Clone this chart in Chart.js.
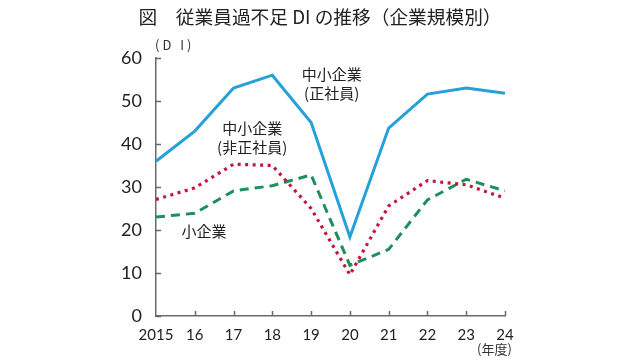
<!DOCTYPE html>
<html>
<head>
<meta charset="utf-8">
<script src="https://cdn.jsdelivr.net/npm/chart.js@4/dist/chart.umd.min.js"></script>
<style>
  html, body { margin: 0; padding: 0; background: #fff; }
  canvas { display: block; }
</style>
</head>
<body>
<canvas id="chartDI" width="627" height="361"></canvas>
<script>
// Datos
const anios = ['2015', '16', '17', '18', '19', '20', '21', '22', '23', '24'];
const seriePequenas = [36, 43, 53, 56, 45, 18.4, 43.7, 51.6, 53, 51.8];     // 中小企業（正社員）
const serieNoRegular = [27.1, 29.8, 35.3, 35, 25, 9.6, 25.6, 31.5, 30.5, 27.4]; // 中小企業（非正社員）
const serieMicro = [23, 23.9, 29.1, 30.3, 32.8, 11.8, 15.5, 27, 31.8, 29.1];   // 小企業
const ticksY = [0, 10, 20, 30, 40, 50, 60];

const titulo = '図　従業員過不足 DI の推移（企業規模別）';
// etiquetas sobre el grafico: [texto, indice x, valor y]
const etiquetas = [
  ['中小企業', 4.53, 56.1],
  ['(正社員)', 4.53, 51.9],
  ['中小企業', 2.48, 43.6],
  ['(非正社員)', 2.48, 39.2],
  ['小企業', 1.24, 19.7]
];

const fuenteNum = 'Lato, "Open Sans", sans-serif';
const fuenteJp = '"Noto Sans CJK JP", sans-serif';
const colorEje = '#6a6a6a';

/**
 * Plugin: titulo, marcas hacia dentro y textos
 */
const pluginDecor = {
  id: 'decor',
  afterDraw(chart) {
    const ctx = chart.ctx;
    const x = chart.scales.x;
    const y = chart.scales.y;
    const area = chart.chartArea;

    ctx.save();
    // marcas hacia dentro
    ctx.strokeStyle = colorEje;
    ctx.lineWidth = 1.5;
    ctx.beginPath();
    ticksY.forEach(v => {
      const py = Math.round(y.getPixelForValue(v)) + 0.5;
      ctx.moveTo(area.left, py);
      ctx.lineTo(area.left + 5, py);
    });
    anios.forEach((a, i) => {
      if (i === 0) return;
      const px = Math.round(x.getPixelForValue(i)) + 0.5;
      ctx.moveTo(px, area.bottom);
      ctx.lineTo(px, area.bottom - 5);
    });
    ctx.stroke();

    // titulo
    ctx.fillStyle = '#222';
    ctx.textAlign = 'center';
    ctx.textBaseline = 'middle';
    ctx.font = '18.7px ' + fuenteJp;
    ctx.fillText(titulo, 320, 17);

    // unidades
    ctx.font = '13px ' + fuenteJp;
    ctx.fillStyle = '#333';
    ctx.textAlign = 'left';
    ctx.letterSpacing = '3px';
    ctx.fillText('(D I)', 155, 45);
    ctx.letterSpacing = '0px';
    ctx.fillText('(年度)', 477, 349);

    // etiquetas de series
    ctx.font = '15px ' + fuenteJp;
    ctx.fillStyle = '#222';
    ctx.textAlign = 'center';
    etiquetas.forEach(([txt, xi, yv]) => {
      ctx.fillText(txt, x.getPixelForValue(xi), y.getPixelForValue(yv));
    });
    ctx.restore();
  }
};

const ctx = document.getElementById('chartDI');

new Chart(ctx, {
  type: 'line',
  data: {
    labels: anios,
    datasets: [
      {
        label: '中小企業（正社員）',
        data: seriePequenas,
        borderColor: 'rgb(38, 160, 216)',
        borderWidth: 3
      },
      {
        label: '中小企業（非正社員）',
        data: serieNoRegular,
        borderColor: 'rgb(196, 22, 58)',
        borderWidth: 3.2,
        borderDash: [3, 4.5]
      },
      {
        label: '小企業',
        data: serieMicro,
        borderColor: 'rgb(30, 142, 92)',
        borderWidth: 3,
        borderDash: [9, 6]
      }
    ]
  },
  options: {
    responsive: false,
    animation: false,
    layout: {
      padding: { left: 0, right: 122, top: 58, bottom: 0 }
    },
    elements: {
      point: { radius: 0 },
      line: { tension: 0, borderCapStyle: 'butt' }
    },
    scales: {
      x: {
        offset: false,
        grid: { display: false },
        border: { display: true, color: colorEje, width: 1.5 },
        ticks: {
          color: '#222',
          font: { family: fuenteNum, size: 15 },
          padding: 2,
          maxRotation: 0,
          autoSkip: false
        },
        afterFit(scale) { scale.height = 45; }
      },
      y: {
        min: 0,
        max: 60,
        grid: { display: false },
        border: { display: true, color: colorEje, width: 1.5 },
        ticks: {
          stepSize: 10,
          color: '#222',
          font: { family: fuenteNum, size: 18 },
          padding: 6
        },
        afterFit(scale) { scale.width = 156; }
      }
    },
    plugins: {
      legend: { display: false },
      tooltip: { enabled: false }
    }
  },
  plugins: [pluginDecor]
});
</script>
</body>
</html>
